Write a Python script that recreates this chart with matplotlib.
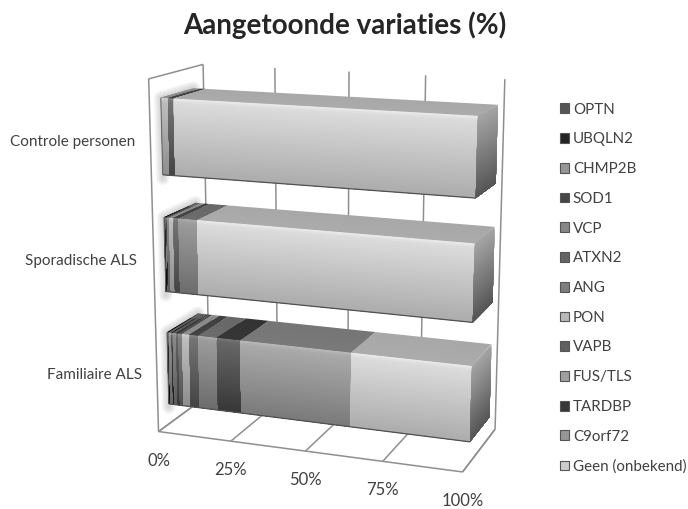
import numpy as np
import matplotlib
matplotlib.use("Agg")
import matplotlib.pyplot as plt
from matplotlib.collections import PolyCollection
from matplotlib.patches import Patch

# ---------- data ----------
categories = ["Familiaire ALS", "Sporadische ALS", "Controle personen"]
series = ["OPTN", "UBQLN2", "CHMP2B", "SOD1", "VCP", "ATXN2", "ANG", "PON",
          "VAPB", "FUS/TLS", "TARDBP", "C9orf72", "Geen (onbekend)"]
familiaire = [0.3, 0.3, 1.0, 0.4, 1.2, 0.8, 1.3, 2.5, 3.1, 6.4, 8.0, 36.7, 37.9]
sporadisch = [0.3, 0.3, 0.2, 0.2, 0.8, 0.0, 0.0, 1.4, 1.8, 6.4, 0.0, 0.0, 88.6]
controle = [0.0, 0.0, 0.0, 0.0, 0.0, 0.0, 0.0, 2.4, 1.9, 0.0, 0.0, 0.0, 95.7]
values = [familiaire, sporadisch, controle]
x_ticks = [0, 25, 50, 75, 100]
x_labels = ["0%", "25%", "50%", "75%", "100%"]

# ---------- styling ----------
greys = [100, 50, 150, 75, 140, 105, 130, 192, 118, 158, 105, 172, 222]
legend_greys = [85, 35, 150, 70, 135, 100, 125, 185, 95, 160, 55, 150, 205]
BAR_LOW, BAR_HIGH = 0.18, 0.82
D_FRONT, D_BACK = 0.2, 0.8
TXT = "#404040"
GRID = "#8f8f8f"

# Camera of the 3-D look: (value, height, depth) -> pixel, fitted to the picture's frame
cal_3d = np.array([
    (0, 0, 0), (100, 0, 0), (100, 0, 1), (0, 3, 0), (0, 3, 1), (100, 3, 1), (25, 0, 0),
    (0, 2.82, .2), (0, 2.18, .2), (100, 2.82, .2), (100, 2.18, .2), (100, 2.82, .8), (100, 2.18, .8), (0, 2.82, .8),
    (0, .82, .2), (0, .18, .2), (100, .82, .2), (100, .18, .2), (100, .82, .8), (100, .18, .8), (0, .82, .8)], float)
cal_px = np.array([
    (158, 430), (464, 472), (496, 430), (148, 79), (200, 64), (505, 79), (232, 440),
    (160, 98), (162, 175), (478, 116), (476, 198), (497, 105), (495, 182), (200, 88),
    (167, 333), (168, 405), (472, 367), (469, 442), (491, 346), (489, 415), (197, 314)], float)


def fit_camera(a, b):
    rows = []
    for (x, y, z), (u, v) in zip(a, b):
        X = [x / 100, y / 3, z, 1]
        u, v = u / 500, v / 500
        rows.append(X + [0, 0, 0, 0] + [-u * k for k in X])
        rows.append([0, 0, 0, 0] + X + [-v * k for k in X])
    return np.linalg.svd(np.array(rows))[2][-1].reshape(3, 4)


CAM = fit_camera(cal_3d, cal_px)


def proj(x, y, z):
    h = CAM @ np.array([x / 100, y / 3, z, 1.0])
    return (h[0] / h[2] * 500, h[1] / h[2] * 500)


def g(v):
    v = float(np.clip(v, 0, 255)) / 255
    return (v, v, v)


plt.rcParams["font.family"] = ["Lato", "DejaVu Sans"]
fig = plt.figure(figsize=(6.88, 5.09), dpi=100)
ax = fig.add_axes([0, 0, 1, 1])
ax.set_xlim(0, 688)
ax.set_ylim(509, 0)
ax.axis("off")


def line(a, b, lw=1.1, c=GRID, zo=1):
    ax.plot([a[0], b[0]], [a[1], b[1]], color=c, lw=lw, zorder=zo, solid_capstyle="butt")


# frame
line(proj(0, 0, 0), proj(0, 3, 0))
line(proj(0, 3, 0), proj(0, 3, 1))
line(proj(0, 0, 0), proj(100, 0, 0))
line(proj(100, 0, 0), proj(100, 0, 1))
line(proj(0, 0, 0), proj(0, 0, 1))
for t, lab in zip(x_ticks, x_labels):
    line(proj(t, 0, 1), proj(t, 3, 1))
    line(proj(t, 0, 0), proj(t, 0, 1))
    px = proj(t, 0, 0)
    ax.text(px[0], px[1] + 29, lab, ha="center", va="center", fontsize=12, color=TXT)

NS = 40
polys, cols = [], []


def strip_face(corner, n, colour):
    # every strip runs on to the far edge of the face, the next one paints over it: no seams
    for i in range(n):
        t0 = i / n
        polys.append([corner(t0, 0), corner(1, 0), corner(1, 1), corner(t0, 1)])
        cols.append(g(colour(t0 + 0.5 / n)))


for c, vals in enumerate(values):
    zb, zt = c + BAR_LOW, c + BAR_HIGH
    # soft shadow around the far end of the bar
    path = [proj(0, zb - 0.03, D_FRONT), proj(0, zt, D_FRONT), proj(0, zt, D_BACK)]
    for w in (10, 8, 6, 4, 2):
        ax.plot(*zip(*path), color="#808080", alpha=0.07, lw=w, zorder=2,
                solid_capstyle="round", solid_joinstyle="round")
    left = 0.0
    for base, v in zip(greys, vals):
        if v <= 0:
            continue
        right = left + v
        top = lambda t, s, l=left, r=right: proj(l + (r - l) * s, zt, D_BACK - (D_BACK - D_FRONT) * t)
        strip_face(top, 4, lambda t, b=base: b - 55 + 4 * t)
        front = lambda t, s, l=left, r=right: proj(l + (r - l) * s, zt - (zt - zb) * t, D_FRONT)
        shade = lambda t, b=base: b - 50 * t + (14 * max(0, 1 - t / 0.05))
        strip_face(front, NS, shade)
        left = right
    # right end of the bar
    side = lambda t, s: proj(100, zt - (zt - zb) * t, D_FRONT + (D_BACK - D_FRONT) * s)
    strip_face(side, NS, lambda t: 165 - 80 * t)
    # thin dark outline under the bar
    line(proj(0, zb, D_FRONT), proj(100, zb, D_FRONT), lw=0.9, c="#505050", zo=4)
    line(proj(0, zb, D_FRONT), proj(0, zt, D_FRONT), lw=0.7, c="#606060", zo=4)

ax.add_collection(PolyCollection(polys, facecolors=cols, edgecolors="none", linewidths=0, zorder=3))

# labels
for name, (x, y) in zip(categories, [(142, 375), (137, 261), (135, 142)]):
    ax.text(x, y, name, ha="right", va="center", fontsize=11, color=TXT)

ax.text(344.5, 25, "Aangetoonde variaties (%)", ha="center", va="center", fontsize=20,
        fontweight="bold", color="#262626")

handles = [Patch(facecolor=g(v), edgecolor="#555555", linewidth=0.8, label=s)
           for s, v in zip(series, legend_greys)]
leg = ax.legend(handles=handles, loc="upper left", bbox_to_anchor=(555.4, 98), bbox_transform=ax.transData,
                frameon=False, fontsize=10.9, labelspacing=1.04, handlelength=0.62, handleheight=0.62,
                handletextpad=0.23, borderpad=0.3, borderaxespad=0, labelcolor=TXT)

fig.savefig("out.png", dpi=100)
